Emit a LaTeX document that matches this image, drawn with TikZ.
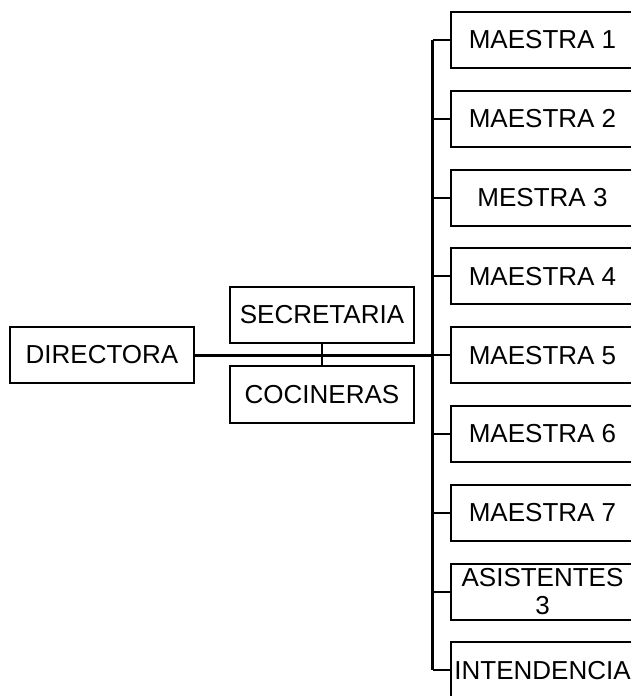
\documentclass[tikz,border=0pt]{standalone}
\usepackage{fontspec}
\setmainfont{Liberation Sans}
\begin{document}
\begin{tikzpicture}[x=1pt,y=-1pt,
  box/.style={draw=black,line width=2pt,rectangle,inner sep=0pt,minimum width=184pt,minimum height=56pt,font=\fontsize{26}{29}\selectfont,align=center},
  rbox/.style={box,minimum width=183pt},
  thick line/.style={line width=3pt},
  thin line/.style={line width=2pt}]
\useasboundingbox (0,0) rectangle (631,696);
\fill[white] (0,0) rectangle (631,696);
\node[box] (dir) at (102,355) {DIRECTORA};
\node[box] (sec) at (322,315) {SECRETARIA};
\node[box,minimum height=57pt] (coc) at (322,394.5) {COCINERAS};
\foreach \n/\t [count=\i from 0] in {m1/MAESTRA 1,m2/MAESTRA 2,m3/MESTRA 3,m4/MAESTRA 4,m5/MAESTRA 5,m6/MAESTRA 6,m7/MAESTRA 7}{
  \node[rbox] (\n) at (542.5,{40+78.8*\i}) {\t};
}
\node[rbox] (asi) at (542.5,{40+78.8*7}) {ASISTENTES\\[-1pt]3};
\node[rbox] (int) at (542.5,{40+78.8*8}) {INTENDENCIA};
\coordinate (sp) at (432.5,0);
\draw[thick line] (m1.west -| sp) -- (int.west -| sp);
\draw[thick line] (dir.east) -- (dir.east -| sp);
\draw[thin line] (sec.south) -- (coc.north);
\foreach \n in {m1,m2,m3,m4,m5,m6,m7,asi,int}{
  \draw[thin line] (\n.west -| sp) -- (\n.west);
}
\end{tikzpicture}
\end{document}
